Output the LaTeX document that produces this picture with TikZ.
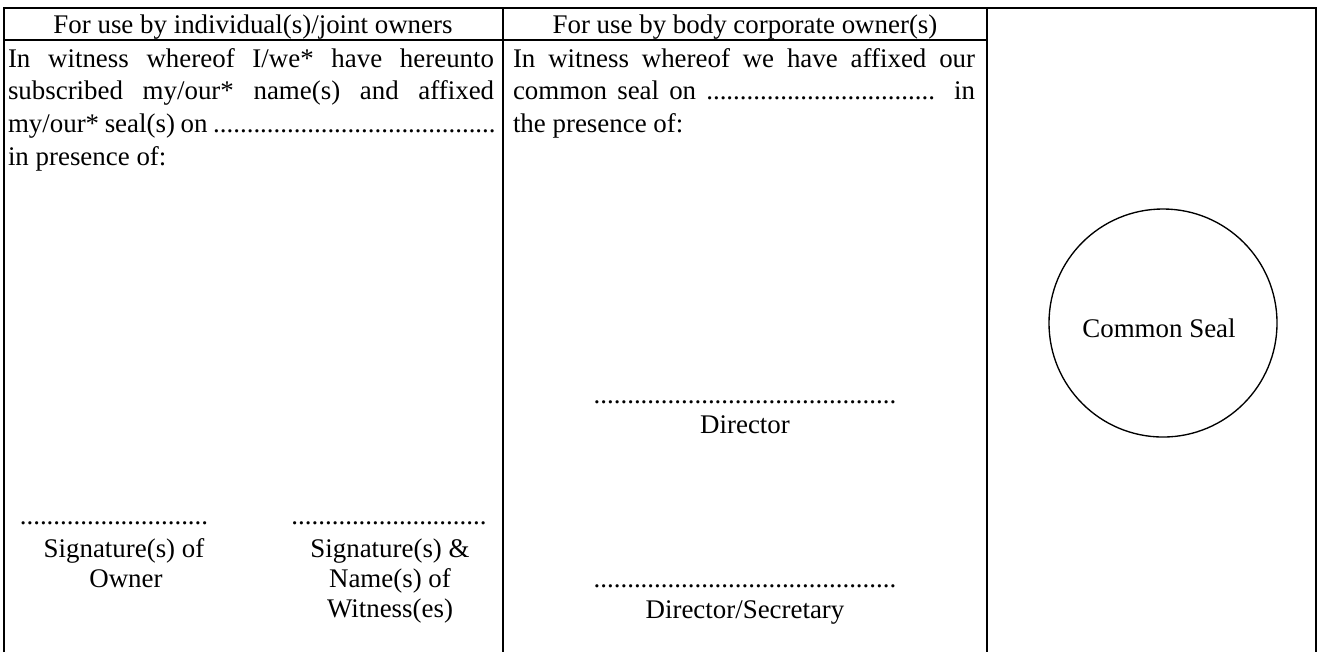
\documentclass[tikz,border=0pt]{standalone}
\usepackage{fontspec}
\setmainfont{Liberation Serif}
\begin{document}
\begin{tikzpicture}[x=0.446pt,y=-0.446pt,
  txt/.style={inner sep=0pt,outer sep=0pt,font=\fontsize{12}{14.8}\selectfont},
  lw/.style={txt,anchor=base west},
  lc/.style={txt,anchor=base},
  outerline/.style={line width=0.95pt},
  innerline/.style={line width=0.85pt},
  hairline/.style={line width=0.5pt}]
\useasboundingbox (0,0) rectangle (1318,652);
% frame
\draw[outerline] (4,652) -- (4,8) -- (1316,8) -- (1316,652);
\draw[innerline] (503,40) -- (503,652);
\draw[innerline] (987,40) -- (987,652);
\draw[hairline] (503,8) -- (503,40);
\draw[hairline] (987,8) -- (987,40);
\draw[hairline] (4,40) -- (987,40);
% headers
\node[lc] (h1) at (253,33) {For use by individual(s)/joint owners};
\node[lc] (h2) at (745,33) {For use by body corporate owner(s)};
% column 1
\node[lw] (a1) at (8,67) {\makebox[216.8pt][s]{In witness whereof I/we* have hereunto}};
\node[lw] (a2) at (8,99) {\makebox[216.8pt][s]{subscribed my/our* name(s) and affixed}};
\node[lw] (a3) at (8,132) {\makebox[217.5pt][s]{my/our* seal(s) on ..........................................}};
\node[lw] (a4) at (8,165) {in presence of:};
% column 2
\node[lw] (b1) at (513,67) {\makebox[206.1pt][s]{In witness whereof we have affixed our}};
\node[lw] (b2) at (513,99) {\makebox[206.1pt][s]{common seal on .................................. in}};
\node[lw] (b3) at (513,132) {the presence of:};
% signatures column 1
\node[lc] (d1) at (114,524) {............................};
\node[lc] (s1a) at (124,557) {Signature(s) of};
\node[lc] (s1b) at (126,587) {Owner};
\node[lc] (d2) at (389,524) {.............................};
\node[lc] (s2a) at (390,557) {Signature(s) \&};
\node[lc] (s2b) at (390,587) {Name(s) of};
\node[lc] (s2c) at (390,617) {Witness(es)};
% signatures column 2
\node[lc] (d3) at (745,403) {.............................................};
\node[lc] (dir) at (745,433) {Director};
\node[lc] (d4) at (745,587) {.............................................};
\node[lc] (dirsec) at (745,618) {Director/Secretary};
% seal
\node[circle,draw,line width=0.6pt,minimum size=101.7pt,inner sep=0pt] (seal) at (1163,323) {};
\node[lc] (sealtxt) at (1159,337) {Common Seal};
\end{tikzpicture}
\end{document}
